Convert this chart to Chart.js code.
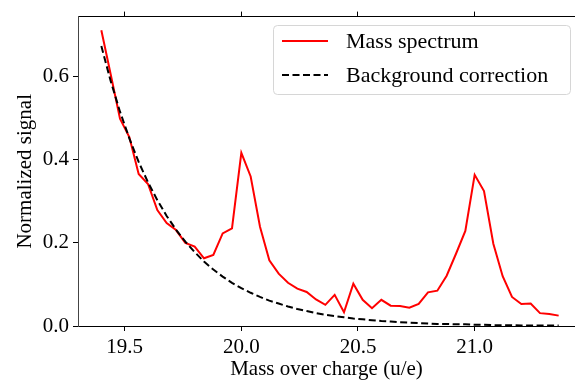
<!DOCTYPE html>
<html>
<head>
<meta charset="utf-8">
<script src="https://cdn.jsdelivr.net/npm/chart.js@4"></script>
<style>
  body { margin: 0; background: #fff; }
  canvas { display: block; }
</style>
</head>
<body>
<canvas id="grafico" width="575" height="383"></canvas>
<script>
// valores
const massa = [19.40, 19.44, 19.48, 19.52, 19.56, 19.60, 19.64, 19.68, 19.72, 19.76,
               19.80, 19.84, 19.88, 19.92, 19.96, 20.00, 20.04, 20.08, 20.12, 20.16,
               20.20, 20.24, 20.28, 20.32, 20.36, 20.40, 20.44, 20.48, 20.52, 20.56,
               20.60, 20.64, 20.68, 20.72, 20.76, 20.80, 20.84, 20.88, 20.92, 20.96,
               21.00, 21.04, 21.08, 21.12, 21.16, 21.20, 21.24, 21.28, 21.32, 21.36];

const espectro = [0.712, 0.606, 0.499, 0.455, 0.366, 0.342, 0.279, 0.248, 0.231, 0.200,
                  0.191, 0.163, 0.171, 0.223, 0.235, 0.417, 0.360, 0.239, 0.158, 0.126,
                  0.104, 0.090, 0.082, 0.064, 0.051, 0.075, 0.033, 0.102, 0.063, 0.043,
                  0.063, 0.049, 0.048, 0.044, 0.053, 0.081, 0.085, 0.121, 0.174, 0.229,
                  0.364, 0.325, 0.198, 0.120, 0.070, 0.053, 0.054, 0.031, 0.029, 0.025];

const fundo = [0.674, 0.590, 0.516, 0.452, 0.395, 0.346, 0.303, 0.265, 0.232, 0.203,
               0.178, 0.155, 0.136, 0.119, 0.104, 0.091, 0.080, 0.070, 0.061, 0.054,
               0.047, 0.041, 0.036, 0.031, 0.027, 0.024, 0.021, 0.018, 0.016, 0.014,
               0.012, 0.011, 0.009, 0.008, 0.007, 0.006, 0.005, 0.005, 0.004, 0.004,
               0.003, 0.003, 0.002, 0.002, 0.002, 0.001, 0.001, 0.001, 0.001, 0.001];

const xTicks = [19.5, 20.0, 20.5, 21.0];
const yTicks = [0.0, 0.2, 0.4, 0.6];
const nomes = ['Mass spectrum', 'Background correction'];

const fonte = 'Liberation Serif, DejaVu Serif, serif';

// legenda desenhada à mão, estilo matplotlib
const legendaPlugin = {
    id: 'legenda',
    afterDraw(chart) {
        const ctx = chart.ctx;
        const x0 = 273.5, y0 = 25.5, w = 297, h = 69, r = 4;
        ctx.save();
        ctx.beginPath();
        ctx.roundRect(x0, y0, w, h, r);
        ctx.fillStyle = 'rgba(255,255,255,0.8)';
        ctx.fill();
        ctx.strokeStyle = '#d6d6d6';
        ctx.lineWidth = 1;
        ctx.stroke();

        const linhas = [
            { y: 41, cor: '#ff0000', dash: [] },
            { y: 75, cor: '#000000', dash: [7, 3.5] }
        ];
        linhas.forEach((l, i) => {
            ctx.beginPath();
            ctx.setLineDash(l.dash);
            ctx.strokeStyle = l.cor;
            ctx.lineWidth = 2;
            ctx.moveTo(282, l.y);
            ctx.lineTo(328, l.y);
            ctx.stroke();
            ctx.setLineDash([]);
            ctx.fillStyle = '#000';
            ctx.font = '22px ' + fonte;
            ctx.textBaseline = 'middle';
            ctx.fillText(nomes[i], 346, l.y + 1);
        });
        ctx.restore();
    }
};

const ctx = document.getElementById('grafico').getContext('2d');
new Chart(ctx, {
    type: 'line',
    data: {
        datasets: [
            {
                label: nomes[0],
                data: massa.map((m, i) => ({ x: m, y: espectro[i] })),
                borderColor: '#ff0000',
                borderWidth: 2,
                pointRadius: 0,
                tension: 0,
                order: 2
            },
            {
                label: nomes[1],
                data: massa.map((m, i) => ({ x: m, y: fundo[i] })),
                borderColor: '#000000',
                borderWidth: 2,
                borderDash: [7, 3.5],
                pointRadius: 0,
                tension: 0,
                order: 1
            }
        ]
    },
    options: {
        responsive: false,
        animation: false,
        devicePixelRatio: 1,
        layout: { padding: 0 },
        plugins: {
            legend: { display: false },
            tooltip: { enabled: false }
        },
        scales: {
            x: {
                type: 'linear',
                position: 'bottom',
                min: 19.3,
                max: 21.43,
                afterBuildTicks: s => { s.ticks = xTicks.map(v => ({ value: v })); },
                afterFit: s => { s.height = 57; },
                grid: { drawOnChartArea: false, drawTicks: true, tickLength: 5, color: '#000' },
                border: { display: true, color: '#000', width: 1 },
                ticks: {
                    color: '#000',
                    padding: 4,
                    maxRotation: 0,
                    font: { family: fonte, size: 21 },
                    callback: v => v.toFixed(1)
                },
                title: {
                    display: true,
                    text: 'Mass over charge (u/e)',
                    color: '#000',
                    font: { family: fonte, size: 21 },
                    padding: { top: 0, bottom: 1 }
                }
            },
            x2: {
                type: 'linear',
                position: 'top',
                min: 19.3,
                max: 21.43,
                afterBuildTicks: s => { s.ticks = xTicks.map(v => ({ value: v })); },
                afterFit: s => { s.height = 13; },
                grid: { drawOnChartArea: false, drawTicks: true, tickLength: 5, color: '#000' },
                border: { display: true, color: '#000', width: 1 },
                ticks: { display: false }
            },
            y: {
                type: 'linear',
                position: 'left',
                min: 0,
                max: 0.745,
                afterBuildTicks: s => { s.ticks = yTicks.map(v => ({ value: v })); },
                afterFit: s => { s.width = 78; },
                grid: { drawOnChartArea: false, drawTicks: true, tickLength: 5, color: '#000' },
                border: { display: true, color: '#444', width: 1 },
                ticks: {
                    color: '#000',
                    padding: 4,
                    font: { family: fonte, size: 21 },
                    callback: v => v.toFixed(1)
                },
                title: {
                    display: true,
                    text: 'Normalized signal',
                    color: '#000',
                    font: { family: fonte, size: 21 },
                    padding: { top: 13, bottom: 13 }
                }
            }
        }
    },
    plugins: [legendaPlugin]
});
</script>
</body>
</html>
